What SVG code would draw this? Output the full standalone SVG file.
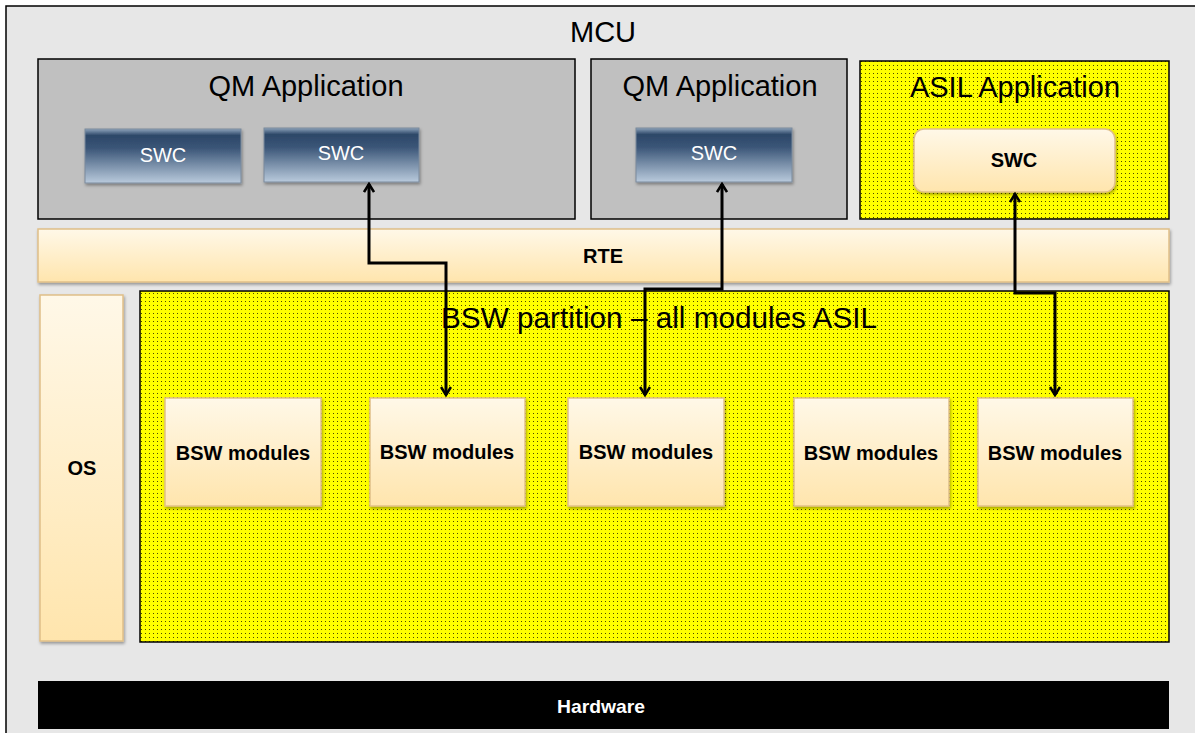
<svg xmlns="http://www.w3.org/2000/svg" width="1195" height="733" viewBox="0 0 1195 733">
<defs>
<pattern id="dots" width="4" height="4" patternUnits="userSpaceOnUse">
<rect width="4" height="4" fill="#ffff00"/>
<rect x="1" y="1" width="1" height="1" fill="#4a4a00"/>
</pattern>
<linearGradient id="blue" x1="0" y1="0" x2="0" y2="1">
<stop offset="0" stop-color="#8ea3bb"/>
<stop offset="0.12" stop-color="#2d4868"/>
<stop offset="0.35" stop-color="#3a5577"/>
<stop offset="1" stop-color="#b9cadc"/>
</linearGradient>
<linearGradient id="cream" x1="0" y1="0" x2="0" y2="1">
<stop offset="0" stop-color="#fff8e8"/>
<stop offset="1" stop-color="#ffe5ad"/>
</linearGradient>
<filter id="sh" x="-10%" y="-10%" width="130%" height="130%">
<feDropShadow dx="1" dy="2" stdDeviation="1.5" flood-color="#000" flood-opacity="0.35"/>
</filter>
<marker id="ah" viewBox="0 0 12 12" refX="10" refY="6" markerWidth="12" markerHeight="12" markerUnits="userSpaceOnUse" orient="auto-start-reverse">
<path d="M2,1 L10,6 L2,11" fill="none" stroke="#000" stroke-width="2.6"/>
</marker>
<style>
.t{font-family:"Liberation Sans",Arial,sans-serif;text-anchor:middle;dominant-baseline:central}
.big{font-size:29px;fill:#000}
.swc{font-size:20px;fill:#fff}
.b{font-size:20px;font-weight:bold;fill:#000}
.cream{fill:url(#cream);stroke:#e0bf88;stroke-width:1.5}
.blue{fill:url(#blue);stroke:#7a8a9c;stroke-width:1}
.app{fill:#c0c0c0;stroke:#000;stroke-width:1.5}
.conn{fill:none;stroke:#000;stroke-width:3;marker-start:url(#ah);marker-end:url(#ah)}
</style>
</defs>
<g id="mcu">
<rect x="6" y="6" width="1200" height="740" fill="#e7e7e7" stroke="#000" stroke-width="1.5"/>
<text class="t big" x="603" y="32">MCU</text>
</g>
<g id="qm-app-1">
<rect class="app" x="38" y="59" width="537" height="160"/>
<text class="t big" x="306" y="86">QM Application</text>
</g>
<g id="swc-1">
<rect class="blue" x="85" y="129" width="156" height="54" filter="url(#sh)"/>
<text class="t swc" x="163" y="155">SWC</text>
</g>
<g id="swc-2">
<rect class="blue" x="264" y="128" width="155" height="54" filter="url(#sh)"/>
<text class="t swc" x="341" y="153">SWC</text>
</g>
<g id="qm-app-2">
<rect class="app" x="591" y="59" width="256" height="160"/>
<text class="t big" x="720" y="86">QM Application</text>
</g>
<g id="swc-3">
<rect class="blue" x="636" y="128" width="156" height="54" filter="url(#sh)"/>
<text class="t swc" x="714" y="153">SWC</text>
</g>
<g id="asil-app">
<rect x="860" y="61" width="309" height="158" fill="url(#dots)" stroke="#000" stroke-width="1.5"/>
<text class="t big" x="1015" y="87">ASIL Application</text>
</g>
<g id="swc-4">
<rect class="cream" x="914" y="129" width="201" height="63" rx="10" filter="url(#sh)"/>
<text class="t b" x="1014" y="160">SWC</text>
</g>
<g id="rte">
<rect class="cream" x="38" y="229" width="1131" height="53" filter="url(#sh)"/>
<text class="t b" x="603" y="256">RTE</text>
</g>
<g id="os">
<rect class="cream" x="40" y="295" width="83" height="346" filter="url(#sh)"/>
<text class="t b" x="82" y="468">OS</text>
</g>
<g id="bsw-partition">
<rect x="140" y="291" width="1029" height="351" fill="url(#dots)" stroke="#000" stroke-width="1.5"/>
<text class="t big" x="659" y="318" textLength="436" lengthAdjust="spacingAndGlyphs">BSW partition – all modules ASIL</text>
</g>
<g id="bsw-1">
<rect class="cream" x="165" y="398" width="156" height="108" filter="url(#sh)"/>
<text class="t b" x="243" y="453">BSW modules</text>
</g>
<g id="bsw-2">
<rect class="cream" x="370" y="398" width="155" height="108" filter="url(#sh)"/>
<text class="t b" x="447" y="452">BSW modules</text>
</g>
<g id="bsw-3">
<rect class="cream" x="568" y="398" width="156" height="108" filter="url(#sh)"/>
<text class="t b" x="646" y="452">BSW modules</text>
</g>
<g id="bsw-4">
<rect class="cream" x="794" y="398" width="155" height="108" filter="url(#sh)"/>
<text class="t b" x="871" y="453">BSW modules</text>
</g>
<g id="bsw-5">
<rect class="cream" x="978" y="398" width="155" height="108" filter="url(#sh)"/>
<text class="t b" x="1055" y="453">BSW modules</text>
</g>
<g id="hardware">
<rect x="38" y="681" width="1131" height="48" fill="#000"/>
<text class="t" x="601" y="706" textLength="88" lengthAdjust="spacingAndGlyphs" style="font-size:19px;font-weight:bold;fill:#fff">Hardware</text>
</g>
<g id="connectors">
<path class="conn" d="M369,184 V263 H446 V395"/>
<path class="conn" d="M722,184 V289 H645 V395"/>
<path class="conn" d="M1015,194 V293 H1055 V395"/>
</g>
</svg>
